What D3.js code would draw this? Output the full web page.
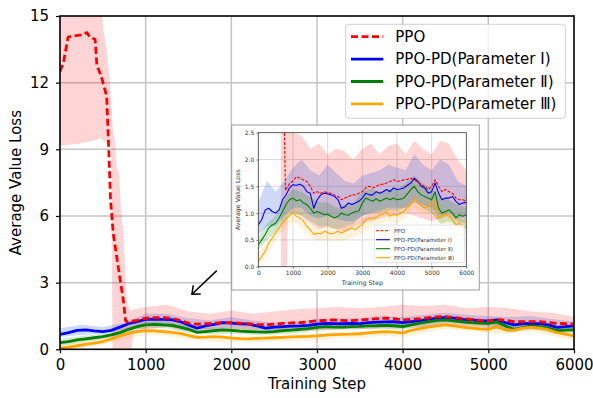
<!DOCTYPE html>
<html>
<head>
<meta charset="utf-8">
<script src="https://cdn.jsdelivr.net/npm/d3@7"></script>
<style>
  body { margin: 0; background: #fff; }
  text { font-family: "DejaVu Sans", sans-serif; }
</style>
</head>
<body>
<div id="canvas"></div>
<script>
// ---------- data ----------
const steps = d3.range(0, 6001, 100);      // 0..6000 every 100
const bandSteps = d3.range(0, 6001, 250);  // 0..6000 every 250
const xTicks = [0, 1000, 2000, 3000, 4000, 5000, 6000];
const yTicks = [0, 3, 6, 9, 12, 15];
const insetYTicks = [0, 0.5, 1.0, 1.5, 2.0, 2.5];
const seriesNames = ["PPO", "PPO-PD(Parameter \u2160)", "PPO-PD(Parameter \u2161)", "PPO-PD(Parameter \u2162)"];

// main chart
const ppoHeadSteps = [0, 40, 95, 150, 250, 315, 350, 410, 430, 480, 545, 570, 590, 622, 680, 740, 765, 790];
const ppoHead = [12.5, 12.9, 14.05, 14.1, 14.15, 14.25, 14.05, 13.95, 12.8, 12.3, 11.4, 8.9, 6.7, 5.2, 3.7, 2.2, 1.3, 1.22];
const ppoTail = [ // 800..6000
  1.25, 1.3,
  1.4, 1.42, 1.42, 1.4, 1.3, 1.18, 1.13, 1.15, 1.17, 1.2,
  1.2, 1.18, 1.15, 1.12, 1.1, 1.13, 1.17, 1.19, 1.2, 1.24,
  1.28, 1.3, 1.32, 1.3, 1.29, 1.32, 1.35, 1.38, 1.4, 1.38,
  1.32, 1.35, 1.38, 1.42, 1.46, 1.47, 1.43, 1.38, 1.35, 1.3,
  1.28, 1.35, 1.3, 1.25, 1.25, 1.25, 1.24, 1.2, 1.17, 1.15, 1.13];
const blueMain = [
  0.67, 0.75, 0.85, 0.87, 0.83, 0.8, 0.85, 1.0, 1.15, 1.25,
  1.35, 1.36, 1.35, 1.34, 1.25, 1.1, 0.95, 1.05, 1.12, 1.2,
  1.18, 1.15, 1.13, 1.05, 0.95, 1.0, 1.02, 1.04, 1.05, 1.08,
  1.13, 1.17, 1.16, 1.15, 1.17, 1.16, 1.2, 1.22, 1.23, 1.24,
  1.2, 1.25, 1.29, 1.35, 1.4, 1.44, 1.4, 1.35, 1.33, 1.28,
  1.28, 1.32, 1.2, 1.1, 1.15, 1.17, 1.16, 1.1, 0.99, 1.02, 1.05];
const greenMain = [
  0.3, 0.35, 0.42, 0.47, 0.52, 0.57, 0.65, 0.75, 0.9, 1.02,
  1.1, 1.12, 1.1, 1.08, 1.0, 0.9, 0.76, 0.8, 0.84, 0.87,
  0.85, 0.82, 0.8, 0.78, 0.77, 0.8, 0.84, 0.86, 0.9, 0.93,
  0.99, 1.02, 1.0, 1.0, 1.02, 1.03, 1.05, 1.06, 1.08, 1.06,
  1.02, 1.1, 1.18, 1.25, 1.3, 1.32, 1.28, 1.23, 1.2, 1.18,
  1.17, 1.23, 1.05, 0.9, 0.98, 1.05, 1.02, 0.95, 0.84, 0.86, 0.87];
const orangeMain = [
  0.05, 0.1, 0.16, 0.22, 0.28, 0.35, 0.47, 0.6, 0.72, 0.8,
  0.84, 0.83, 0.8, 0.76, 0.72, 0.63, 0.54, 0.55, 0.57, 0.55,
  0.5, 0.48, 0.47, 0.49, 0.5, 0.52, 0.54, 0.56, 0.57, 0.58,
  0.6, 0.64, 0.66, 0.67, 0.68, 0.7, 0.74, 0.77, 0.8, 0.77,
  0.74, 0.85, 0.93, 1.0, 1.05, 1.1, 1.05, 1.0, 0.95, 0.92,
  0.9, 1.02, 0.88, 0.86, 0.95, 0.99, 0.95, 0.88, 0.75, 0.68, 0.6];

const ppoBandSteps = [0, 200, 400, 470, 486, 504, 545, 584, 600, 612, 622, 642, 661, 690, 705, 739, 778, 817, 836, 860, 1000,
  1250, 1500, 1750, 2000, 2250, 2500, 2750, 3000, 3250, 3500, 3750, 4000, 4250, 4500, 4750, 5000, 5250, 5500, 5750, 6000];
const ppoBandUpper = [16, 16, 16, 16, 15.5, 14.4, 13.5, 12.0, 11.0, 10.2, 9.7, 9.4, 8.2, 7.9, 6.7, 5.2, 2.2, 1.75, 1.75, 1.8, 1.9,
  2.0, 1.7, 1.6, 1.75, 1.6, 1.7, 1.8, 1.85, 1.9, 1.85, 1.9, 2.0, 1.95, 2.0, 1.85, 1.9, 1.85, 1.7, 1.65, 1.45];
const ppoBandLower = [9.15, 9.25, 9.4, 9.5, 9.45, 9.4, 9.3, 9.3, 9.0, 0, 0, 0, 0, 0, 0, 0, 0, 0, 0, 0.9, 0.9,
  1.0, 0.8, 0.75, 0.8, 0.75, 0.75, 0.8, 0.85, 0.9, 0.9, 0.95, 0.95, 1.0, 1.05, 1.0, 0.95, 0.9, 0.9, 0.85, 0.8];
const blueBandUpper = [0.95, 1.1, 1.0, 1.2, 1.6, 1.6, 1.4, 1.3, 1.45, 1.3, 1.2, 1.25, 1.35, 1.4, 1.4, 1.5, 1.45, 1.55, 1.65, 1.55, 1.5, 1.45, 1.5, 1.35, 1.25];
const blueBandLower = [0.55, 0.65, 0.7, 0.9, 1.15, 1.15, 0.95, 0.9, 1.0, 0.95, 0.85, 0.9, 0.95, 1.0, 1.0, 1.05, 1.05, 1.1, 1.25, 1.15, 1.1, 0.95, 1.0, 0.85, 0.9];
const greenBandUpper = [0.45, 0.6, 0.7, 0.95, 1.25, 1.25, 1.05, 0.95, 1.0, 0.95, 0.95, 1.0, 1.12, 1.15, 1.18, 1.2, 1.2, 1.3, 1.45, 1.35, 1.3, 1.1, 1.2, 1.05, 1.0];
const greenBandLower = [0.15, 0.3, 0.45, 0.65, 0.95, 0.95, 0.75, 0.68, 0.7, 0.65, 0.65, 0.72, 0.85, 0.88, 0.9, 0.92, 0.88, 1.0, 1.18, 1.08, 1.02, 0.75, 0.9, 0.75, 0.72];
const orangeBandUpper = [0.15, 0.35, 0.45, 0.75, 0.95, 0.9, 0.72, 0.65, 0.6, 0.58, 0.62, 0.66, 0.7, 0.77, 0.8, 0.88, 0.85, 1.05, 1.2, 1.1, 1.0, 0.98, 1.08, 0.88, 0.7];
const orangeBandLower = [0.0, 0.05, 0.2, 0.45, 0.65, 0.6, 0.45, 0.35, 0.32, 0.3, 0.35, 0.38, 0.42, 0.5, 0.52, 0.6, 0.55, 0.75, 0.92, 0.82, 0.72, 0.7, 0.82, 0.6, 0.4];

// inset chart
const insetPpoHeadSteps = [740, 785];
const insetPpoHead = [3.0, 1.42];
const insetPpo = [ // 800..6000
  1.44, 1.55,
  1.6, 1.68, 1.65, 1.62, 1.59, 1.5, 1.37, 1.4, 1.37, 1.4,
  1.38, 1.37, 1.34, 1.31, 1.25, 1.28, 1.31, 1.34, 1.34, 1.37,
  1.4, 1.47, 1.5, 1.47, 1.5, 1.53, 1.54, 1.56, 1.59, 1.62,
  1.59, 1.6, 1.62, 1.63, 1.65, 1.62, 1.59, 1.53, 1.5, 1.44,
  1.5, 1.62, 1.5, 1.4, 1.44, 1.4, 1.37, 1.28, 1.25, 1.25, 1.22];
const insetBlue = [
  0.78, 0.88, 1.06, 1.09, 1.03, 1.0, 1.06, 1.25, 1.34, 1.47,
  1.53, 1.52, 1.54, 1.5, 1.4, 1.37, 1.09, 1.25, 1.34, 1.37,
  1.36, 1.34, 1.31, 1.25, 1.09, 1.12, 1.19, 1.16, 1.19, 1.22,
  1.28, 1.37, 1.34, 1.34, 1.4, 1.37, 1.4, 1.44, 1.4, 1.47,
  1.44, 1.45, 1.47, 1.52, 1.56, 1.65, 1.59, 1.5, 1.47, 1.37,
  1.4, 1.56, 1.37, 1.25, 1.28, 1.28, 1.31, 1.22, 1.16, 1.19, 1.2];
const insetGreen = [
  0.41, 0.5, 0.6, 0.72, 0.78, 0.81, 0.91, 1.03, 1.16, 1.25,
  1.28, 1.23, 1.25, 1.19, 1.16, 1.09, 1.0, 1.03, 1.0, 0.97,
  0.98, 0.94, 0.91, 0.94, 1.0, 0.97, 0.96, 1.0, 1.03, 1.04,
  1.19, 1.28, 1.25, 1.22, 1.27, 1.22, 1.25, 1.28, 1.25, 1.28,
  1.25, 1.26, 1.28, 1.36, 1.44, 1.5, 1.4, 1.34, 1.31, 1.28,
  1.25, 1.4, 1.09, 1.0, 1.03, 1.06, 1.0, 0.91, 0.97, 0.94, 0.97];
const insetOrange = [
  0.1, 0.19, 0.29, 0.44, 0.53, 0.63, 0.72, 0.81, 0.88, 0.96,
  1.0, 0.94, 0.91, 0.85, 0.75, 0.69, 0.6, 0.63, 0.61, 0.66,
  0.64, 0.61, 0.63, 0.66, 0.63, 0.66, 0.69, 0.72, 0.69, 0.75,
  0.78, 0.88, 0.91, 0.9, 0.92, 0.96, 0.98, 1.03, 0.94, 0.98,
  0.96, 1.0, 1.03, 1.1, 1.16, 1.25, 1.19, 1.13, 1.09, 1.13,
  1.16, 1.25, 0.91, 0.94, 0.98, 0.94, 0.88, 0.78, 0.81, 0.75, 0.72];

const insetPpoBandSteps = [650, 830, 850, 1000, 1250, 1500, 1750, 2000, 2250, 2500, 2750, 3000, 3250, 3500, 3750, 4000, 4250, 4500, 4750, 5000, 5250, 5500, 5750, 6000];
const insetPpoBandUpper = [2.7, 2.7, 2.5, 2.5, 2.45, 2.2, 2.3, 2.1, 2.2, 2.15, 2.0, 2.2, 2.3, 2.1, 2.25, 2.3, 2.1, 2.35, 2.2, 2.1, 2.35, 2.3, 2.0, 1.8];
const insetPpoBandLower = [0, 0, 1.0, 1.0, 0.95, 0.8, 0.7, 0.75, 0.7, 0.65, 0.75, 0.8, 0.85, 0.9, 0.95, 0.95, 1.0, 0.95, 0.9, 0.85, 0.9, 0.95, 0.85, 0.8];
const insetBlueUpper = [1.2, 1.6, 1.4, 1.6, 1.85, 2.0, 1.8, 1.7, 1.9, 1.75, 1.6, 1.55, 1.7, 1.75, 1.8, 1.9, 1.85, 1.8, 2.1, 1.9, 1.8, 2.0, 1.9, 1.6, 1.5];
const insetBlueLower = [0.6, 0.75, 0.75, 0.95, 1.1, 1.1, 0.95, 0.9, 0.95, 0.9, 0.85, 0.85, 0.95, 1.0, 1.05, 1.1, 1.1, 1.1, 1.2, 1.15, 1.1, 0.95, 1.0, 0.9, 0.95];
const insetGreenUpper = [0.55, 0.8, 0.95, 1.25, 1.45, 1.4, 1.3, 1.2, 1.2, 1.1, 1.15, 1.2, 1.4, 1.45, 1.4, 1.45, 1.45, 1.55, 1.7, 1.55, 1.45, 1.3, 1.25, 1.15, 1.1];
const insetGreenLower = [0.3, 0.5, 0.65, 0.85, 1.0, 0.95, 0.85, 0.75, 0.75, 0.7, 0.75, 0.8, 0.95, 1.0, 1.0, 1.05, 1.05, 1.1, 1.25, 1.1, 1.0, 0.8, 0.85, 0.75, 0.75];
const insetOrangeUpper = [0.2, 0.45, 0.72, 0.95, 1.1, 0.98, 0.8, 0.72, 0.75, 0.73, 0.76, 0.8, 0.88, 1.0, 1.05, 1.1, 1.05, 1.15, 1.35, 1.22, 1.26, 1.05, 1.04, 0.92, 0.82];
const insetOrangeLower = [0.0, 0.22, 0.5, 0.7, 0.85, 0.72, 0.55, 0.48, 0.5, 0.48, 0.5, 0.55, 0.62, 0.75, 0.8, 0.85, 0.8, 0.9, 1.1, 0.98, 1.0, 0.8, 0.8, 0.68, 0.58];

// ---------- drawing ----------
const colors = ["#ff0000", "#0000ff", "#008000", "#ffa500"];
const bandColors = ["#ff0000", "#4169e1", "#008000", "#ffa500"];
const bandOpacity = [0.17, 0.26, 0.18, 0.14];

const width = 593, height = 398;
const margin = { top: 16, left: 60, bottom: 48.7, right: 19 };
const iwidth = width - margin.left - margin.right;
const iheight = height - margin.top - margin.bottom;

const svg = d3.select("#canvas").append("svg")
  .attr("width", width).attr("height", height)
  .attr("viewBox", [0, 0, width, height]);

const x = d3.scaleLinear().domain([0, 6000]).range([0, iwidth]);
const y = d3.scaleLinear().domain([0, 15]).range([iheight, 0]);

const g = svg.append("g").attr("transform", `translate(${margin.left},${margin.top})`);

svg.append("defs").append("clipPath").attr("id", "clipMain")
  .append("rect").attr("width", iwidth).attr("height", iheight);

// grid
g.append("g").selectAll("line").data(xTicks.slice(1, -1)).join("line")
  .attr("x1", d => x(d)).attr("x2", d => x(d)).attr("y1", 0).attr("y2", iheight)
  .attr("stroke", "#c4c4c4").attr("stroke-width", 1.5);
g.append("g").selectAll("line").data(yTicks.slice(1, -1)).join("line")
  .attr("y1", d => y(d)).attr("y2", d => y(d)).attr("x1", 0).attr("x2", iwidth)
  .attr("stroke", "#c4c4c4").attr("stroke-width", 1.5);

function drawSeries(parent, xs, ys, clipId, bands, lines, lw, dash) {
  const plot = parent.append("g").attr("clip-path", `url(#${clipId})`);
  bands.forEach(b => {
    const pts = d3.zip(b.steps, b.lower, b.upper);
    plot.append("path").datum(pts)
      .attr("d", d3.area().x(d => xs(d[0])).y0(d => ys(d[1])).y1(d => ys(d[2])))
      .attr("fill", bandColors[b.k]).attr("fill-opacity", bandOpacity[b.k]);
  });
  lines.forEach(l => {
    const pts = d3.zip(l.steps, l.values);
    plot.append("path").datum(pts)
      .attr("d", d3.line().x(d => xs(d[0])).y(d => ys(d[1])))
      .attr("fill", "none").attr("stroke", colors[l.k])
      .attr("stroke-width", lw)
      .attr("stroke-linejoin", "round")
      .attr("stroke-dasharray", l.k === 0 ? dash : null);
  });
}

const ppoSteps = ppoHeadSteps.concat(d3.range(800, 6001, 100));
drawSeries(g, x, y, "clipMain",
  [
    { k: 0, steps: ppoBandSteps, lower: ppoBandLower, upper: ppoBandUpper },
    { k: 1, steps: bandSteps, lower: blueBandLower, upper: blueBandUpper },
    { k: 2, steps: bandSteps, lower: greenBandLower, upper: greenBandUpper },
    { k: 3, steps: bandSteps, lower: orangeBandLower, upper: orangeBandUpper }
  ],
  [
    { k: 1, steps: steps, values: blueMain },
    { k: 2, steps: steps, values: greenMain },
    { k: 3, steps: steps, values: orangeMain },
    { k: 0, steps: ppoSteps, values: ppoHead.concat(ppoTail) }
  ], 2.8, "7,3.5");

// axes
const xAxis = g.append("g").attr("transform", `translate(0,${iheight})`)
  .call(d3.axisBottom(x).tickValues(xTicks).tickFormat(d3.format("d")).tickSize(4).tickPadding(6).tickSizeOuter(0));
const yAxis = g.append("g")
  .call(d3.axisLeft(y).tickValues(yTicks).tickSize(4).tickPadding(7).tickSizeOuter(0));
[xAxis, yAxis].forEach(a => {
  a.select(".domain").remove();
  a.selectAll("text").attr("font-size", 15).attr("fill", "#000").style("font-family", "DejaVu Sans");
  a.selectAll("line").attr("stroke", "#000").attr("stroke-width", 1.2);
});
g.append("rect").attr("width", iwidth).attr("height", iheight)
  .attr("fill", "none").attr("stroke", "#000").attr("stroke-width", 1.6);

svg.append("text").attr("x", margin.left + iwidth / 2).attr("y", 389)
  .attr("text-anchor", "middle").attr("font-size", 15).text("Training Step");
svg.append("text").attr("transform", `translate(21,${margin.top + iheight / 2}) rotate(-90)`)
  .attr("text-anchor", "middle").attr("font-size", 15).text("Average Value Loss");

// arrow pointing from the inset towards the main curves
const arrowFrom = [1830, 3.54], arrowTo = [1540, 2.48];
const ax0 = x(arrowFrom[0]), ay0 = y(arrowFrom[1]), ax1 = x(arrowTo[0]), ay1 = y(arrowTo[1]);
g.append("path")
  .attr("d", `M${ax0},${ay0}L${ax1},${ay1}M${ax1 + 1.3},${ay1 - 8.8}L${ax1},${ay1}L${ax1 + 8.8},${ay1 - 0.3}`)
  .attr("fill", "none").attr("stroke", "#000").attr("stroke-width", 1.5);

// main legend
const leg = svg.append("g").attr("transform", "translate(345.7,24.3)");
leg.append("rect").attr("width", 219.6).attr("height", 94).attr("rx", 3)
  .attr("fill", "#fff").attr("fill-opacity", 0.8).attr("stroke", "#d0d0d0").attr("stroke-width", 1);
seriesNames.forEach((name, i) => {
  const yy = 12.4 + i * 22.4;
  leg.append("line").attr("x1", 5.3).attr("x2", 37.6).attr("y1", yy).attr("y2", yy)
    .attr("stroke", colors[i]).attr("stroke-width", 2.8)
    .attr("stroke-dasharray", i === 0 ? "7,3.5" : null);
  leg.append("text").attr("x", 49.6).attr("y", yy).attr("dy", "0.36em")
    .attr("font-size", 15).text(name);
});

// ---------- inset ----------
const inset = svg.append("g").attr("transform", "translate(231.7,125)");
inset.append("rect").attr("width", 247.6).attr("height", 165)
  .attr("fill", "#fff").attr("stroke", "#9a9a9a").attr("stroke-width", 1);
const iw = 208, ih = 134;
const ig = inset.append("g").attr("transform", "translate(26.6,7.7)");
const ix = d3.scaleLinear().domain([0, 6000]).range([0, iw]);
const iy = d3.scaleLinear().domain([0, 2.5]).range([ih, 0]);

svg.select("defs").append("clipPath").attr("id", "clipInset")
  .append("rect").attr("width", iw).attr("height", ih);

ig.append("g").selectAll("line").data(xTicks.slice(1, -1)).join("line")
  .attr("x1", d => ix(d)).attr("x2", d => ix(d)).attr("y1", 0).attr("y2", ih)
  .attr("stroke", "#d0d0d0").attr("stroke-width", 0.8);
ig.append("g").selectAll("line").data(insetYTicks.slice(1, -1)).join("line")
  .attr("y1", d => iy(d)).attr("y2", d => iy(d)).attr("x1", 0).attr("x2", iw)
  .attr("stroke", "#d0d0d0").attr("stroke-width", 0.8);

const insetPpoSteps = insetPpoHeadSteps.concat(d3.range(800, 6001, 100));
drawSeries(ig, ix, iy, "clipInset",
  [
    { k: 0, steps: insetPpoBandSteps, lower: insetPpoBandLower, upper: insetPpoBandUpper },
    { k: 1, steps: bandSteps, lower: insetBlueLower, upper: insetBlueUpper },
    { k: 2, steps: bandSteps, lower: insetGreenLower, upper: insetGreenUpper },
    { k: 3, steps: bandSteps, lower: insetOrangeLower, upper: insetOrangeUpper }
  ],
  [
    { k: 1, steps: steps, values: insetBlue },
    { k: 2, steps: steps, values: insetGreen },
    { k: 3, steps: steps, values: insetOrange },
    { k: 0, steps: insetPpoSteps, values: insetPpoHead.concat(insetPpo) }
  ], 1.1, "3,1.5");

const ixAxis = ig.append("g").attr("transform", `translate(0,${ih})`)
  .call(d3.axisBottom(ix).tickValues(xTicks).tickFormat(d3.format("d")).tickSize(2).tickPadding(2).tickSizeOuter(0));
const iyAxis = ig.append("g")
  .call(d3.axisLeft(iy).tickValues(insetYTicks).tickFormat(d3.format(".1f")).tickSize(2).tickPadding(2).tickSizeOuter(0));
[ixAxis, iyAxis].forEach(a => {
  a.select(".domain").remove();
  a.selectAll("text").attr("font-size", 6).attr("fill", "#333").style("font-family", "DejaVu Sans");
  a.selectAll("line").attr("stroke", "#333").attr("stroke-width", 0.6);
});
ig.append("rect").attr("width", iw).attr("height", ih)
  .attr("fill", "none").attr("stroke", "#333").attr("stroke-width", 0.8);
ig.append("text").attr("x", iw / 2).attr("y", 152.5).attr("text-anchor", "middle")
  .attr("font-size", 6.3).attr("fill", "#333").text("Training Step");
ig.append("text").attr("transform", `translate(-18.5,${ih / 2}) rotate(-90)`)
  .attr("text-anchor", "middle").attr("font-size", 6.3).attr("fill", "#333").text("Average Value Loss");

const ileg = ig.append("g").attr("transform", "translate(116,92.3)");
ileg.append("rect").attr("width", 90).attr("height", 37.7).attr("rx", 1.5)
  .attr("fill", "#fff").attr("fill-opacity", 0.8).attr("stroke", "#d0d0d0").attr("stroke-width", 0.6);
seriesNames.forEach((name, i) => {
  const yy = 5.7 + i * 9;
  ileg.append("line").attr("x1", 1.7).attr("x2", 15.7).attr("y1", yy).attr("y2", yy)
    .attr("stroke", colors[i]).attr("stroke-width", 1.1)
    .attr("stroke-dasharray", i === 0 ? "3,1.5" : null);
  ileg.append("text").attr("x", 19.7).attr("y", yy).attr("dy", "0.36em")
    .attr("font-size", 5.6).attr("fill", "#333").text(name);
});
</script>
</body>
</html>
